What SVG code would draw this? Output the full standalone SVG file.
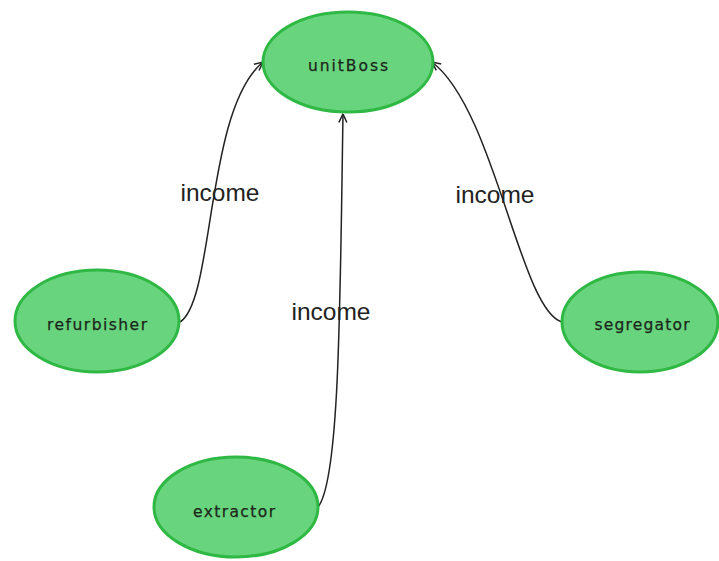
<svg xmlns="http://www.w3.org/2000/svg" width="719" height="561" viewBox="0 0 719 561">
<style>
.node ellipse{fill:#69d47e;stroke:#2fb843;stroke-width:3}
.node text{font-family:"DejaVu Sans","Liberation Sans",sans-serif;font-size:15.5px;fill:#1a261a;text-anchor:middle;stroke:#1a261a;stroke-width:0.25}
.edge{fill:none;stroke:#222;stroke-width:1.5;marker-end:url(#arr)}
.lbl{font-family:"Liberation Sans",Arial,sans-serif;font-size:24.5px;fill:#222;text-anchor:middle}
</style>
<defs>
<marker id="arr" viewBox="0 0 10 10" refX="9.5" refY="5" markerWidth="10" markerHeight="10" markerUnits="userSpaceOnUse" orient="auto">
<path d="M1,1 L9.5,5 L1,9" fill="none" stroke="#222" stroke-width="1.5"/>
</marker>
</defs>
<rect width="719" height="561" fill="#fff"/>
<g id="connectors">
<path class="edge" d="M180,322 C215,300 205,110 263,62"/>
<path class="edge" d="M562,322 C520,310 495,110 432,62"/>
<path class="edge" d="M318,507 C340,480 340,300 343,114"/>
</g>
<g id="labels">
<text class="lbl" x="220" y="201">income</text>
<text class="lbl" x="495" y="203">income</text>
<text class="lbl" x="331" y="320">income</text>
</g>
<g id="unitBoss" class="node">
<ellipse cx="348" cy="62" rx="85" ry="50"/>
<text x="348" y="71" textLength="80" lengthAdjust="spacing">unitBoss</text>
</g>
<g id="refurbisher" class="node">
<ellipse cx="97" cy="321" rx="82" ry="51"/>
<text x="97" y="330" textLength="100" lengthAdjust="spacing">refurbisher</text>
</g>
<g id="segregator" class="node">
<ellipse cx="640" cy="322" rx="78" ry="50"/>
<text x="642" y="330" textLength="95" lengthAdjust="spacing">segregator</text>
</g>
<g id="extractor" class="node">
<ellipse cx="236" cy="507" rx="82" ry="50"/>
<text x="234" y="517" textLength="82" lengthAdjust="spacing">extractor</text>
</g>
</svg>
